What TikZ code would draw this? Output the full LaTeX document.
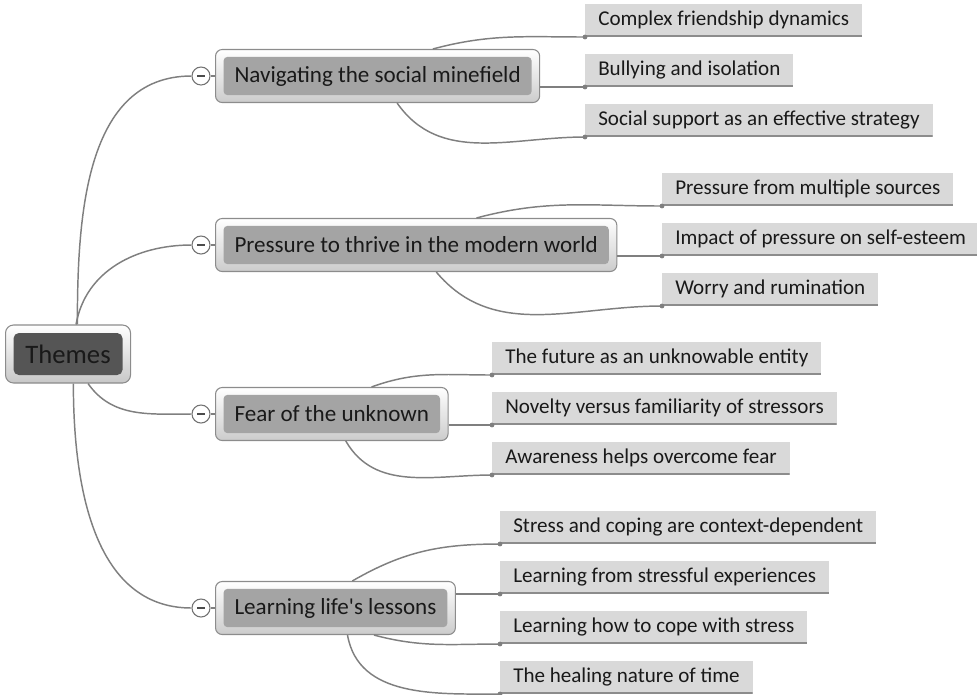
\documentclass[tikz,border=0pt]{standalone}
\usepackage{fontspec}
\setmainfont{Carlito}
\usetikzlibrary{positioning,calc}
\definecolor{linkgray}{HTML}{7F7F7F}
\definecolor{themedark}{HTML}{555555}
\definecolor{topicgray}{HTML}{A4A4A4}
\definecolor{subgray}{HTML}{D9D9D9}
\definecolor{undergray}{HTML}{8C8C8C}

\begin{document}
\begin{tikzpicture}[%
x=0.75pt,y=-0.75pt,%
link/.style={draw=linkgray, line width=1.1pt},%
themebox/.style={draw=black!45, line width=0.8pt, rounded corners=6pt,
  top color=white, bottom color=black!22, minimum width=93.75pt,
  minimum height=43.5pt, inner sep=0pt, text=black!90,
  font=\fontsize{20}{23}\selectfont,
  path picture={\fill[themedark, rounded corners=4pt]
    ([shift={(6pt,6pt)}]path picture bounding box.south west) rectangle
    ([shift={(-6pt,-6pt)}]path picture bounding box.north east);}},%
topicbox/.style={draw=black!45, line width=0.8pt, rounded corners=5pt,
  top color=white, bottom color=black!20, anchor=west,
  minimum height=39.75pt, inner xsep=14.25pt, inner ysep=0pt, text=black!90,
  font=\fontsize{17.3}{20}\selectfont,
  path picture={\fill[topicgray, rounded corners=3pt]
    ([shift={(6pt,5.5pt)}]path picture bounding box.south west) rectangle
    ([shift={(-6pt,-5.5pt)}]path picture bounding box.north east);}},%
subbox/.style={fill=subgray, anchor=south west, minimum height=24.75pt,
  inner xsep=9.75pt, inner ysep=0pt, text=black!90,
  font=\fontsize{15.8}{18}\selectfont,
  path picture={\draw[undergray, line width=2.4pt]
    (path picture bounding box.south west) --
    (path picture bounding box.south east);}},%
toggle/.style={circle, draw=black!55, line width=0.8pt, fill=white,
  minimum size=13.5pt, inner sep=0pt,
  path picture={\draw[black!70, line width=1.3pt]
    ([xshift=-3pt]path picture bounding box.center) --
    ([xshift=3pt]path picture bounding box.center);}},%
  ]
    \useasboundingbox (0,0) rectangle (977,694);

    % central theme
    \node[themebox, anchor=west] (themes) at (5,354) {Themes};

    % main topics
    \node[topicbox] (nav) at (215,76) {Navigating the social minefield};
    \node[topicbox] (press) at (215,245) {Pressure to thrive in the modern world};
    \node[topicbox] (fear) at (215,414) {Fear of the unknown};
    \node[topicbox] (learn) at (215,608) {Learning life\textquotesingle s lessons};

    \node[toggle] (navt) at (201,76) {};
    \node[toggle] (presst) at (201,245) {};
    \node[toggle] (feart) at (201,414) {};
    \node[toggle] (learnt) at (201,608) {};

    % sub topics
    \node[subbox] (nav1) at (585,37) {Complex friendship dynamics};
    \node[subbox] (nav2) at (585,87) {Bullying and isolation};
    \node[subbox] (nav3) at (585,137) {Social support as an effective strategy};

    \node[subbox] (press1) at (662,206) {Pressure from multiple sources};
    \node[subbox] (press2) at (662,256) {Impact of pressure on self-esteem};
    \node[subbox] (press3) at (662,306) {Worry and rumination};

    \node[subbox] (fear1) at (492,375) {The future as an unknowable entity};
    \node[subbox] (fear2) at (492,425) {Novelty versus familiarity of stressors};
    \node[subbox] (fear3) at (492,475) {Awareness helps overcome fear};

    \node[subbox] (learn1) at (500,544) {Stress and coping are context-dependent};
    \node[subbox] (learn2) at (500,594) {Learning from stressful experiences};
    \node[subbox] (learn3) at (500,644) {Learning how to cope with stress};
    \node[subbox] (learn4) at (500,694) {The healing nature of time};

    % theme to topics
    \draw[link] ([xshift=7pt]themes.north) to[out=90,in=180] (navt.west);
    \draw[link] ([xshift=6pt]themes.north) to[out=80,in=180] (presst.west);
    \draw[link] ([xshift=15pt]themes.south) to[out=-55,in=180] (feart.west);
    \draw[link] ([xshift=4pt]themes.south) to[out=-90,in=180] (learnt.west);

    \draw[link] (navt) -- (nav);
    \draw[link] (presst) -- (press);
    \draw[link] (feart) -- (fear);
    \draw[link] (learnt) -- (learn);

    % topics to sub topics
    \draw[link] ($(nav.north west)!0.67!(nav.north east)$) to[out=15,in=180] (nav1.south west);
    \draw[link] (nav.east |- nav2.south west) -- (nav2.south west);
    \draw[link] ($(nav.south west)!0.56!(nav.south east)$) to[out=-55,in=180] (nav3.south west);

    \draw[link] ($(press.north west)!0.65!(press.north east)$) to[out=15,in=180] (press1.south west);
    \draw[link] (press.east |- press2.south west) -- (press2.south west);
    \draw[link] ($(press.south west)!0.55!(press.south east)$) to[out=-50,in=180] (press3.south west);

    \draw[link] ($(fear.north west)!0.67!(fear.north east)$) to[out=20,in=180] (fear1.south west);
    \draw[link] (fear.east |- fear2.south west) -- (fear2.south west);
    \draw[link] ($(fear.south west)!0.56!(fear.south east)$) to[out=-60,in=180] (fear3.south west);

    \draw[link] ($(learn.north west)!0.57!(learn.north east)$) to[out=30,in=180] (learn1.south west);
    \draw[link] (learn.east |- learn2.south west) -- (learn2.south west);
    \draw[link] ($(learn.south west)!0.66!(learn.south east)$) to[out=-15,in=180] (learn3.south west);
    \draw[link] ($(learn.south west)!0.55!(learn.south east)$) to[out=-80,in=180] (learn4.south west);

    \foreach \s in {nav1,nav2,nav3,press1,press2,press3,fear1,fear2,fear3,learn1,learn2,learn3,learn4}
      \fill[linkgray] (\s.south west) circle (1.8pt);
  \end{tikzpicture}
\end{document}
